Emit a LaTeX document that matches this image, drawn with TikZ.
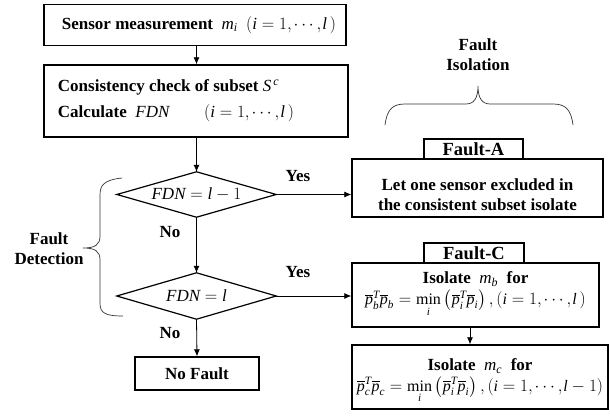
\documentclass[tikz,border=0pt]{standalone}
\usepackage{amsmath}
\usepackage{fontspec}
\setmainfont{Liberation Serif}
\usetikzlibrary{arrows.meta,calc}
\newcommand\vv[1]{\textnormal{\itshape #1}}
\newcommand\pb{\overline{\vv{p}}}
\newcommand\rng{\vv{i}=1{,}\mkern-1mu\cdots{,}\mkern1mu\vv{l}}
\begin{document}
\begin{tikzpicture}[x=1pt,y=-1pt,
  box/.style={draw,line width=1.4pt,inner sep=0pt,font=\bfseries\fontsize{17}{20}\selectfont},
  lbl/.style={font=\bfseries\fontsize{17}{20}\selectfont,inner sep=0pt},
  txt/.style={font=\bfseries\fontsize{17}{20}\selectfont,inner sep=0pt,align=center},
  arr/.style={line width=0.8pt,-{Latex[length=7pt,width=6pt]}},
  brace/.style={line width=0.7pt,draw=black!80}]
\useasboundingbox (0,0) rectangle (610,419);
% boxes
\node[box,minimum width=302pt,minimum height=41pt] (b1) at (195,25)
  {\hspace*{8pt}Sensor measurement\ \ $\vv{m}_{\vv{i}}$\ \ $(\rng\,)$};
\node[box,minimum width=304pt,minimum height=72pt,align=left] (b2) at (196,101)
  {Consistency check of subset $\vv{S}^{\,\vv{c}}$\\[6pt]
   Calculate\ \ \vv{FDN}\qquad$(\rng\,)$\hspace*{40pt}};
% diamonds
\node[minimum width=159pt,minimum height=45pt,inner sep=0pt] (d1) at (196.5,194.5)
  {\fontsize{17}{20}\selectfont$\vv{FDN}=\vv{l}-1$};
\draw[line width=1.2pt] (d1.north) -- (d1.east) -- (d1.south) -- (d1.west) -- cycle;
\node[minimum width=159pt,minimum height=46pt,inner sep=0pt] (d2) at (196.5,296)
  {\fontsize{17}{20}\selectfont$\vv{FDN}=\vv{l}$};
\draw[line width=1.2pt] (d2.north) -- (d2.east) -- (d2.south) -- (d2.west) -- cycle;
\node[box,minimum width=124pt,minimum height=33pt] (nf) at (197,373.5) {No Fault};
% Fault-A
\node[box,minimum width=251pt,minimum height=58pt] (fa) at (477.5,188) {};
\node[txt] (fat) at (477.5,195) {Let one sensor excluded in\\the consistent subset isolate};
\node[box,fill=white,minimum width=99pt,minimum height=20pt,font=\bfseries\fontsize{18.5}{20}\selectfont] (fal) at (473.5,149) {Fault-A};
% Fault-C
\node[box,minimum width=247pt,minimum height=64pt] (fc) at (475.5,295) {};
\node[txt] (fct) at (475.5,294.5)
  {Isolate\ \ $\vv{m}_{\vv{b}}$\ \ for\\[1pt]
   {\mdseries\fontsize{16}{18}\selectfont$\pb_{\vv{b}}^{\vv{T}}\pb_{\vv{b}}=\mathop{\textnormal{min}}\limits_{\vv{i}}\left(\pb_{\vv{i}}^{\vv{T}}\pb_{\vv{i}}\right),(\rng\,)$}};
\node[box,fill=white,minimum width=100pt,minimum height=20pt,font=\bfseries\fontsize{18.5}{20}\selectfont] (fcl) at (474,253) {Fault-C};
% bottom isolate box
\node[box,minimum width=256pt,minimum height=64pt] (fd) at (480,377) {};
\node[txt] (fdt) at (480,381)
  {Isolate\ \ $\vv{m}_{\vv{c}}$\ \ for\\[1pt]
   {\mdseries\fontsize{16}{18}\selectfont$\pb_{\vv{c}}^{\vv{T}}\pb_{\vv{c}}=\mathop{\textnormal{min}}\limits_{\vv{i}}\left(\pb_{\vv{i}}^{\vv{T}}\pb_{\vv{i}}\right),(\rng-1)$}};
% connectors
\draw[arr] (b1.south -| d1.north) -- (b2.north -| d1.north);
\draw[arr] (b2.south -| d1.north) -- (d1.north);
\draw[arr] (d1.east) -- (d1.east -| fa.west);
\draw[arr] (d1.south) -- (d2.north);
\draw[arr] (d2.east) -- (d2.east -| fc.west);
\draw[arr] (d2.south) -- (nf.north);
\coordinate (fcs) at (470,327);
\draw[arr] (fc.south -| fcs) -- (fd.north -| fcs);
% labels
\node[lbl] (y1) at (298,176) {Yes};
\node[lbl] (y2) at (298,272) {Yes};
\node[lbl] (n1) at (170,232) {No};
\node[lbl] (n2) at (170,333) {No};
\node[lbl,align=center] (fdet) at (49,249) {Fault\\Detection};
\node[lbl,align=center] (fiso) at (478,55) {Fault\\Isolation};
% braces
\draw[brace] (122,178) .. controls (104,180) and (100,185) .. (100,195) -- (100,236)
  .. controls (100,245) and (95,248) .. (83,248)
  .. controls (95,248) and (100,251) .. (100,260) -- (100,303)
  .. controls (100,313) and (105,316) .. (123,316);
\draw[brace] (385,125) .. controls (387,110) and (392,104) .. (405,104) -- (466,104)
  .. controls (474,104) and (478,98) .. (478,86)
  .. controls (478,98) and (482,104) .. (490,104) -- (553,104)
  .. controls (566,104) and (571,110) .. (573,125);
\end{tikzpicture}
\end{document}
